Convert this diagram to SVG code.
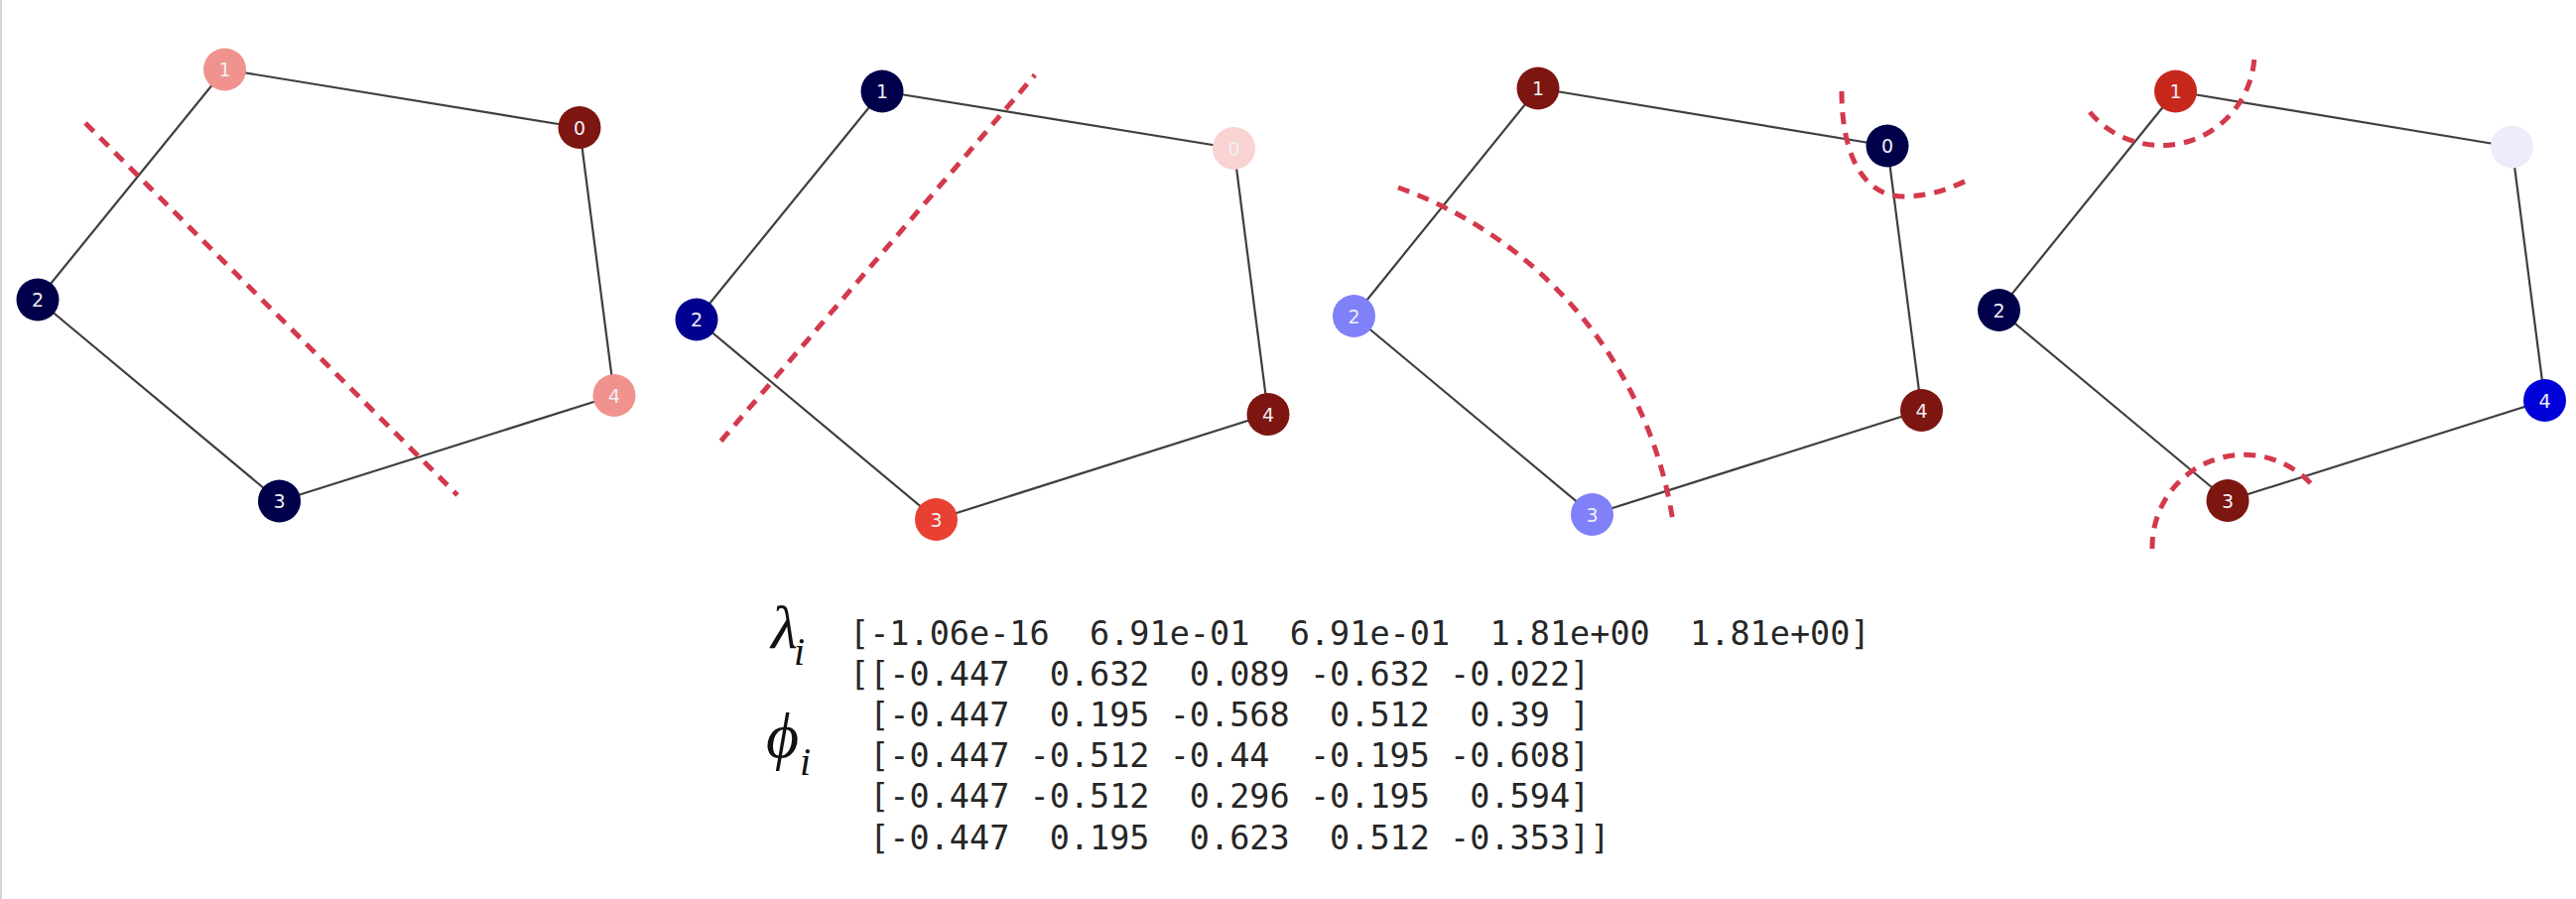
<svg xmlns="http://www.w3.org/2000/svg" width="2596" height="906" viewBox="0 0 2596 906">
<style>
.edge{stroke:#3f3f3f;stroke-width:2.2;fill:none}
.cut{stroke:#d3394c;stroke-width:5;fill:none;stroke-dasharray:12 9}
.lbl{font-family:"DejaVu Sans","Liberation Sans",sans-serif;font-size:19px;fill:#f0f0f4;text-anchor:middle}
.mono{font-family:"DejaVu Sans Mono","Liberation Mono",monospace;font-size:33.5px;fill:#262626;white-space:pre}
.math{font-family:"Liberation Serif","DejaVu Serif",serif;font-style:italic;fill:#111}
</style>
<rect x="0" y="0" width="2596" height="906" fill="#ffffff"/>
<rect x="0" y="0" width="2" height="906" fill="#d4d4d4"/>

<g id="connectors">
  <!-- panel 1 -->
  <line class="edge" x1="226.5" y1="70" x2="584" y2="128.5"/>
  <line class="edge" x1="584" y1="128.5" x2="619" y2="398.5"/>
  <line class="edge" x1="619" y1="398.5" x2="281.5" y2="505"/>
  <line class="edge" x1="281.5" y1="505" x2="38" y2="302"/>
  <line class="edge" x1="38" y1="302" x2="226.5" y2="70"/>
  <!-- panel 2 -->
  <line class="edge" x1="889" y1="92" x2="1243.5" y2="149.5"/>
  <line class="edge" x1="1243.5" y1="149.5" x2="1278" y2="417.5"/>
  <line class="edge" x1="1278" y1="417.5" x2="943.5" y2="523.5"/>
  <line class="edge" x1="943.5" y1="523.5" x2="702" y2="322"/>
  <line class="edge" x1="702" y1="322" x2="889" y2="92"/>
  <!-- panel 3 -->
  <line class="edge" x1="1550" y1="89" x2="1902" y2="147"/>
  <line class="edge" x1="1902" y1="147" x2="1936.5" y2="413.5"/>
  <line class="edge" x1="1936.5" y1="413.5" x2="1604.5" y2="518.5"/>
  <line class="edge" x1="1604.5" y1="518.5" x2="1364.5" y2="318.5"/>
  <line class="edge" x1="1364.5" y1="318.5" x2="1550" y2="89"/>
  <!-- panel 4 -->
  <line class="edge" x1="2192.5" y1="92" x2="2531.5" y2="148"/>
  <line class="edge" x1="2531.5" y1="148" x2="2564.5" y2="403.5"/>
  <line class="edge" x1="2564.5" y1="403.5" x2="2245" y2="504.5"/>
  <line class="edge" x1="2245" y1="504.5" x2="2014.5" y2="312.5"/>
  <line class="edge" x1="2014.5" y1="312.5" x2="2192.5" y2="92"/>
</g>

<g id="cuts">
  <path class="cut" d="M86,124 L461,499"/>
  <path class="cut" d="M726.5,444.5 L1043,75.5"/>
  <path class="cut" d="M1409,189 A425.5,425.5 0 0 1 1686,526"/>
  <path class="cut" d="M1856,92 C1856,160 1880,198 1918,198 C1945,198 1965,190 1984,181"/>
  <path class="cut" d="M2106,113 A94,94 0 0 0 2272,52"/>
  <path class="cut" d="M2169,553 A92.6,92.6 0 0 1 2333,492"/>
</g>

<!-- panel 1 nodes -->
<g id="p1-n0"><circle cx="584" cy="128.5" r="21.5" fill="#7d1510"/><text class="lbl" x="584" y="135.5">0</text></g>
<g id="p1-n1"><circle cx="226.5" cy="70" r="21.5" fill="#f0938e"/><text class="lbl" x="226.5" y="77">1</text></g>
<g id="p1-n2"><circle cx="38" cy="302" r="21.5" fill="#00004a"/><text class="lbl" x="38" y="309">2</text></g>
<g id="p1-n3"><circle cx="281.5" cy="505" r="21.5" fill="#00004a"/><text class="lbl" x="281.5" y="512">3</text></g>
<g id="p1-n4"><circle cx="619" cy="398.5" r="21.5" fill="#f0938e"/><text class="lbl" x="619" y="405.5">4</text></g>

<!-- panel 2 nodes -->
<g id="p2-n0"><circle cx="1243.5" cy="149.5" r="21.5" fill="#f8d3d2"/><text class="lbl" x="1243.5" y="156.5">0</text></g>
<g id="p2-n1"><circle cx="889" cy="92" r="21.5" fill="#00004a"/><text class="lbl" x="889" y="99">1</text></g>
<g id="p2-n2"><circle cx="702" cy="322" r="21.5" fill="#000090"/><text class="lbl" x="702" y="329">2</text></g>
<g id="p2-n3"><circle cx="943.5" cy="523.5" r="21.5" fill="#e84033"/><text class="lbl" x="943.5" y="530.5">3</text></g>
<g id="p2-n4"><circle cx="1278" cy="417.5" r="21.5" fill="#7d1510"/><text class="lbl" x="1278" y="424.5">4</text></g>

<!-- panel 3 nodes -->
<g id="p3-n0"><circle cx="1902" cy="147" r="21.5" fill="#00004a"/><text class="lbl" x="1902" y="154">0</text></g>
<g id="p3-n1"><circle cx="1550" cy="89" r="21.5" fill="#7d1510"/><text class="lbl" x="1550" y="96">1</text></g>
<g id="p3-n2"><circle cx="1364.5" cy="318.5" r="21.5" fill="#8080f8"/><text class="lbl" x="1364.5" y="325.5">2</text></g>
<g id="p3-n3"><circle cx="1604.5" cy="518.5" r="21.5" fill="#8080f8"/><text class="lbl" x="1604.5" y="525.5">3</text></g>
<g id="p3-n4"><circle cx="1936.5" cy="413.5" r="21.5" fill="#7d1510"/><text class="lbl" x="1936.5" y="420.5">4</text></g>

<!-- panel 4 nodes -->
<g id="p4-n0"><circle cx="2531.5" cy="148" r="21.5" fill="#ececfa"/><text class="lbl" x="2531.5" y="155">0</text></g>
<g id="p4-n1"><circle cx="2192.5" cy="92" r="21.5" fill="#c8281c"/><text class="lbl" x="2192.5" y="99">1</text></g>
<g id="p4-n2"><circle cx="2014.5" cy="312.5" r="21.5" fill="#00004a"/><text class="lbl" x="2014.5" y="319.5">2</text></g>
<g id="p4-n3"><circle cx="2245" cy="504.5" r="21.5" fill="#7d1510"/><text class="lbl" x="2245" y="511.5">3</text></g>
<g id="p4-n4"><circle cx="2564.5" cy="403.5" r="21.5" fill="#0000d8"/><text class="lbl" x="2564.5" y="410.5">4</text></g>

<g id="eigen-text">
  <text class="math" x="777" y="653" font-size="62">λ</text>
  <text class="math" x="800" y="670" font-size="40">i</text>
  <text class="math" x="772" y="763" font-size="64">ϕ</text>
  <text class="math" x="806" y="781" font-size="40">i</text>
  <text class="mono" x="856" y="650">[-1.06e-16  6.91e-01  6.91e-01  1.81e+00  1.81e+00]</text>
  <text class="mono" x="856" y="691">[[-0.447  0.632  0.089 -0.632 -0.022]</text>
  <text class="mono" x="856" y="732"> [-0.447  0.195 -0.568  0.512  0.39 ]</text>
  <text class="mono" x="856" y="773"> [-0.447 -0.512 -0.44  -0.195 -0.608]</text>
  <text class="mono" x="856" y="814"> [-0.447 -0.512  0.296 -0.195  0.594]</text>
  <text class="mono" x="856" y="856"> [-0.447  0.195  0.623  0.512 -0.353]]</text>
</g>
</svg>
